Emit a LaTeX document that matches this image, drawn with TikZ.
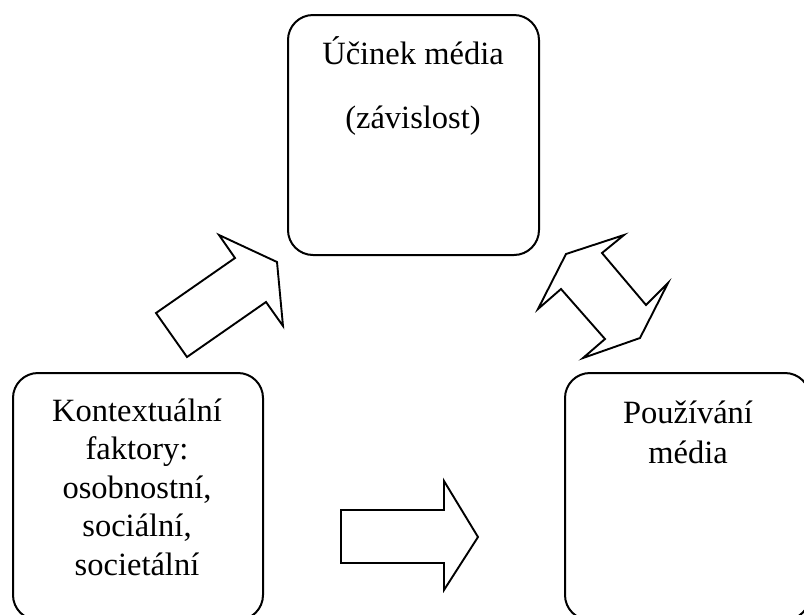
\documentclass[tikz,border=0pt]{standalone}
\usepackage{fontspec}
\setmainfont{Liberation Serif}
\begin{document}
\begin{tikzpicture}[x=1pt,y=-1pt,
  box/.style={draw=black,line width=2pt,rounded corners=25pt,inner sep=0pt},
  txt/.style={font=\fontsize{32.5}{38}\selectfont,anchor=base,inner sep=0pt},
  blockarrow/.style={draw=black,fill=white,line width=1.9pt,line join=miter}]
\useasboundingbox (0,0) rectangle (804,614);
\clip (0,0) rectangle (804,614);
% boxes
\node[box,minimum width=251pt,minimum height=240pt] (effect) at (413.5,135) {};
\node[box,minimum width=250pt,minimum height=247pt] (context) at (138,496.5) {};
\node[box,minimum width=245pt,minimum height=247pt] (usage) at (687.5,496.5) {};
% texts
\node[txt] (e1) at (413,64) {Účinek média};
\node[txt] (e2) at (413,128) {(závislost)};
\node[txt] (c1) at (137,421) {Kontextuální};
\node[txt] (c2) at (137,459.5) {faktory:};
\node[txt] (c3) at (137,498) {osobnostní,};
\node[txt] (c4) at (137,536.5) {sociální,};
\node[txt] (c5) at (137,575) {societální};
\node[txt] (u1) at (688,423) {Používání};
\node[txt] (u2) at (688,463) {média};
% block arrows
\draw[blockarrow] (156,313) -- (235,258) -- (219,235) -- (277,262) -- (283,326) -- (266,302) -- (187,357) -- cycle;
\draw[blockarrow] (566,254) -- (624,235) -- (602,253) -- (646,305) -- (668,283) -- (640,338) -- (583,358) -- (605,339) -- (561,289) -- (538,309) -- cycle;
\draw[blockarrow] (341,510) -- (444,510) -- (444,481) -- (478,537) -- (444,590) -- (444,563) -- (341,563) -- cycle;
\end{tikzpicture}
\end{document}
